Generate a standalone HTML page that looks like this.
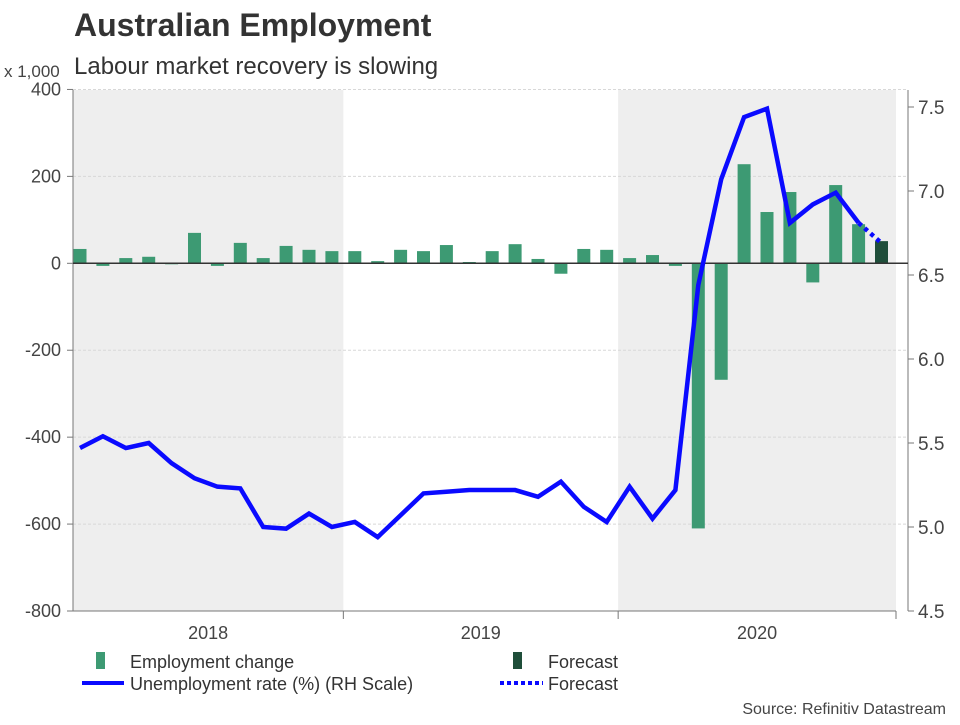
<!DOCTYPE html>
<html><head><meta charset="utf-8"><style>
body{margin:0;background:#fff;}
svg text{font-family:"Liberation Sans",Arial,sans-serif;}
</style></head><body>
<svg id="chart" width="960" height="720" xmlns="http://www.w3.org/2000/svg">
<text x="74" y="36" font-size="32" font-weight="bold" fill="#333">Australian Employment</text>
<text x="74" y="74" font-size="24" fill="#333">Labour market recovery is slowing</text>
<text x="4" y="77" font-size="17" fill="#444">x 1,000</text>
<g id="plot"></g>
<g id="legend">
<rect x="96" y="652" width="9" height="17" fill="#3d9a73"/>
<text x="130" y="668" font-size="18" fill="#333">Employment change</text>
<rect x="513" y="652" width="9" height="17" fill="#1f4e3a"/>
<text x="548" y="668" font-size="18" fill="#333">Forecast</text>
<line x1="82" y1="683" x2="124" y2="683" stroke="#0a0aff" stroke-width="4"/>
<text x="130" y="690" font-size="18" fill="#333">Unemployment rate (%) (RH Scale)</text>
<line x1="500" y1="683" x2="543" y2="683" stroke="#0a0aff" stroke-width="4" stroke-dasharray="4,3"/>
<text x="548" y="690" font-size="18" fill="#333">Forecast</text>
</g>
<text x="946" y="714" font-size="16" fill="#444" text-anchor="end">Source: Refinitiv Datastream</text>
</svg>
<script>
const empChange=[33,-6,12,15,-1,70,-6,47,12,40,31,28,28,5,31,28,42,3,28,44,10,-24,33,31,12,19,-6,-610,-268,228,118,164,-44,180,90,51];
const unempRate=[5.47,5.54,5.47,5.50,5.38,5.29,5.24,5.23,5.00,4.99,5.08,5.00,5.03,4.94,5.07,5.20,5.21,5.22,5.22,5.22,5.18,5.27,5.12,5.03,5.24,5.05,5.22,6.44,7.07,7.44,7.49,6.81,6.92,6.99,6.81,6.69];
const forecastCount=1;
const leftTicks=[400,200,0,-200,-400,-600,-800];
const rightTicks=[7.5,7.0,6.5,6.0,5.5,5.0,4.5];
const years=["2018","2019","2020"];

const NS="http://www.w3.org/2000/svg";
const g=document.getElementById('plot');
const L=73,R=896,T=90,B=611;
const step=22.9,x0=80;
const xPos=i=>x0+i*step;
const yL=v=>263.3+(0-v)*(B-263.3)/800;
const yR=v=>B-(v-4.5)*(B-107)/3;
function mk(tag,attrs,parent){const e=document.createElementNS(NS,tag);for(const k in attrs)e.setAttribute(k,attrs[k]);(parent||g).appendChild(e);return e;}

years.forEach((y,k)=>{
  const xa=k===0?L:xPos(k*12-0.5), xb=k===2?R:xPos(k*12+11.5);
  if(k%2===0){const r=mk('rect',{x:xa,y:T,width:xb-xa,height:B-T,fill:'#eeeeee'});
    
    }
  const t=mk('text',{x:(xa+xb)/2,y:639,'font-size':18,fill:'#444','text-anchor':'middle'});
  t.textContent=y;
  
  
  if(k>0){const tk=mk('line',{x1:xa,y1:B,x2:xa,y2:B+8,stroke:'#777'});
    
    }
});
const tkEnd=mk('line',{x1:R,y1:B,x2:R,y2:B+8,stroke:'#777'});



leftTicks.forEach(v=>{
  const y=yL(v);
  if(v!==0&&v!==-800){const gl=mk('line',{x1:L,y1:y,x2:908,y2:y,stroke:'#d8d8d8','stroke-dasharray':'3,2'});
    
    }
  const tk=mk('line',{x1:L-6,y1:y,x2:L,y2:y,stroke:'#777'});
  
  
  const t=mk('text',{x:L-12,y:y+6,'font-size':18,fill:'#444','text-anchor':'end'});
  t.textContent=v;
  
  
});
rightTicks.forEach(v=>{
  const y=yR(v);
  const tk=mk('line',{x1:908,y1:y,x2:914,y2:y,stroke:'#777'});
  
  
  const t=mk('text',{x:918,y:y+7,'font-size':19,fill:'#444'});
  t.textContent=v.toFixed(1);
  
  
});
const axL=mk('line',{x1:L,y1:T,x2:L,y2:B,stroke:'#777'});


const axR=mk('line',{x1:908,y1:T,x2:908,y2:B,stroke:'#777'});


const axB=mk('line',{x1:L,y1:B,x2:R,y2:B,stroke:'#777'});



const n=empChange.length;
empChange.forEach((v,i)=>{
  const x=xPos(i),y0=yL(0),y=yL(v);
  const fc=i>=n-forecastCount;
  const b=mk('rect',{x:x-6.5,y:Math.min(y,y0),width:13,height:Math.max(1,Math.abs(y-y0)),fill:fc?'#1f4e3a':'#3d9a73'});
  
  
});
const zl=mk('line',{x1:L,y1:yL(0),x2:908,y2:yL(0),stroke:'#333','stroke-width':1.5});



const actual=unempRate.slice(0,n-forecastCount).map((v,i)=>xPos(i)+','+yR(v)).join(' ');
const pl=mk('polyline',{points:actual,fill:'none',stroke:'#0a0aff','stroke-width':4.5,'stroke-linejoin':'miter'});


const fpts=unempRate.slice(n-forecastCount-1).map((v,j)=>xPos(n-forecastCount-1+j)+','+yR(v)).join(' ');
const fl=mk('polyline',{points:fpts,fill:'none',stroke:'#0a0aff','stroke-width':4.5,'stroke-dasharray':'4,4'});


</script>
</body></html>
